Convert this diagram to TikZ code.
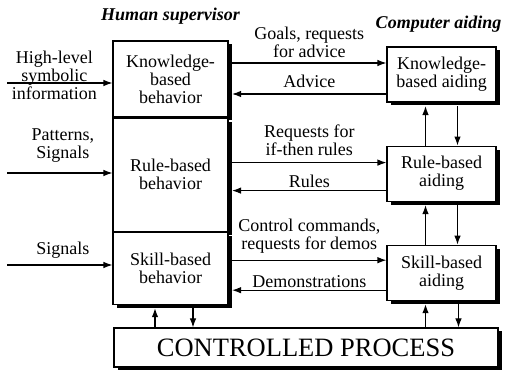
\documentclass[tikz,border=0pt]{standalone}
\usepackage{fontspec}
\setmainfont{Liberation Serif}
\usetikzlibrary{arrows.meta, positioning, shadows}
\tikzset{
  every picture/.style={line width=1.1pt},
  box/.style={draw, fill=white, align=center, inner sep=0pt, font=\fontsize{18}{18}\selectfont,
    drop shadow={shadow xshift=3.5pt, shadow yshift=-3.5pt, fill=black, opacity=1}},
  behav/.style={box, minimum width=115pt},
  aid/.style={box, minimum width=109pt, minimum height=55pt},
  lbl/.style={font=\fontsize{18}{18}\selectfont, align=center, inner sep=2pt},
  head/.style={font=\fontsize{18}{18}\selectfont\bfseries\itshape, inner sep=2pt}
}

\begin{document}
\begin{tikzpicture}[x=1pt, y=1pt, >={Latex[length=9pt, width=6.5pt]}, node distance=43pt]
    \useasboundingbox (0,0) rectangle (505,374);

    % human supervisor column
    \node [behav, minimum height=76pt] (kb) at (170.5,295) {Knowledge-\\based\\behavior};
    \node [behav, minimum height=113pt, below=0pt of kb] (rb) {Rule-based\\behavior};
    \node [behav, minimum height=72pt, below=0pt of rb] (sb) {Skill-based\\behavior};
    \node [head, above=14pt of kb] (hs) {Human supervisor};

    % computer aiding column
    \node [aid] (ka) at (441.5,299.5) {Knowledge-\\based aiding};
    \node [aid, below=of ka] (ra) {Rule-based\\aiding};
    \node [aid, below=of ra] (sa) {Skill-based\\aiding};
    \node [head, above=12pt of ka, xshift=-3pt] (ca) {Computer aiding};

    \node [box, minimum width=384pt, minimum height=39pt, font=\fontsize{26.5}{27}\selectfont] (cp) at (306,26.5) {CONTROLLED PROCESS};

    % outer edge of the column shadow
    \coordinate (edge) at ([xshift=3.5pt]kb.east);

    \coordinate (in1) at (7,291);
    \coordinate (in2) at (7,201);
    \coordinate (in3) at (7,109);
    \coordinate (goals) at ([yshift=11.5pt]ka.west);
    \coordinate (advice) at ([yshift=-19.5pt]ka.west);
    \coordinate (rreq) at ([yshift=11pt]ra.west);
    \coordinate (rules) at ([yshift=-17pt]ra.west);
    \coordinate (ctrl) at ([yshift=12.5pt]sa.west);
    \coordinate (demo) at ([yshift=-17.5pt]sa.west);

    \draw(in1) edge[->] node[lbl, pos=0.45, yshift=8pt]{High-level\\symbolic\\information} (kb.west |- in1);
    \draw(in2) edge[->] node[lbl, pos=0.53, above=8pt]{Patterns,\\Signals} (rb.west |- in2);
    \draw(in3) edge[->] node[lbl, pos=0.53, above=4pt]{Signals} (sb.west |- in3);

    \draw(edge |- goals) edge[->] node[lbl, above=3pt]{Goals, requests\\for advice} (goals);
    \draw(advice) edge[->] node[lbl, above=4pt]{Advice} (edge |- advice);
    \draw(edge |- rreq) edge[->] node[lbl, above=4pt]{Requests for\\if-then rules} (rreq);
    \draw(rules) edge[->] node[lbl, above=0pt]{Rules} (edge |- rules);
    \draw(edge |- ctrl) edge[->] node[lbl, above=4pt]{Control commands,\\requests for demos} (ctrl);
    \draw(demo) edge[->] node[lbl, above=0pt]{Demonstrations} (edge |- demo);

    \draw([xshift=-16pt]ra.north) edge[->] ([xshift=-16pt, yshift=-3.5pt]ka.south);
    \draw([xshift=16pt, yshift=-3.5pt]ka.south) edge[->] ([xshift=16pt]ra.north);
    \draw([xshift=-16pt]sa.north) edge[->] ([xshift=-16pt, yshift=-3.5pt]ra.south);
    \draw([xshift=16pt, yshift=-3.5pt]ra.south) edge[->] ([xshift=16pt]sa.north);

    \draw([xshift=-16pt]sa.south |- cp.north) edge[->] ([xshift=-16pt, yshift=-3.5pt]sa.south);
    \draw([xshift=17pt, yshift=-3.5pt]sa.south) edge[->] ([xshift=17pt]sa.south |- cp.north);
    \draw([xshift=-15.5pt]sb.south |- cp.north) edge[->] ([xshift=-15.5pt, yshift=-3.5pt]sb.south);
    \draw([xshift=22.5pt, yshift=-3.5pt]sb.south) edge[->] ([xshift=22.5pt]sb.south |- cp.north);
\end{tikzpicture}
\end{document}
